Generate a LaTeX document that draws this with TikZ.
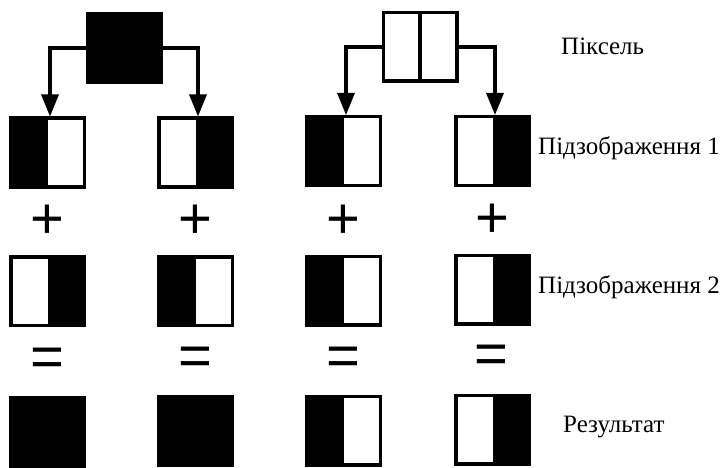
\documentclass[tikz,border=0pt]{standalone}
\usepackage{fontspec}
\setmainfont{Liberation Serif}
\newfontfamily\opfont{Liberation Sans}
\usetikzlibrary{arrows.meta,calc}
\begin{document}
\begin{tikzpicture}[x=1pt,y=-1pt,
  cell/.style={draw=black,line width=3.5pt,minimum width=73.5pt,minimum height=68.5pt,inner sep=0pt},
  fullcell/.style={cell,fill=black},
  conn/.style={line width=3.2pt,-{Triangle[length=22pt,width=17pt]}},
  op/.style={font=\opfont\fontsize{58}{62}\selectfont,inner sep=0pt},
  lab/.style={font=\fontsize{25}{29}\selectfont,inner sep=0pt,anchor=base west}]
\useasboundingbox (0,0) rectangle (723,468);
% pixels
\node[fullcell] (p1) at (124,48) {};
\node[cell] (p2) at (420,47) {};
\draw[line width=3.5pt] (p2.north) -- (p2.south);
% row 1
\node[cell] (a1) at (47.5,152.5) {};
\node[cell] (a2) at (195.5,152.5) {};
\node[cell] (a3) at (343.5,151) {};
\node[cell] (a4) at (492.5,151) {};
\fill (a1.north west) rectangle (a1.south);
\fill (a2.north) rectangle (a2.south east);
\fill (a3.north west) rectangle (a3.south);
\fill (a4.north) rectangle (a4.south east);
% arrows
\draw[conn] (p1.west) -| ([xshift=2.5pt]a1.north);
\draw[conn] (p1.east) -| ([xshift=2.5pt]a2.north);
\draw[conn] (p2.west) -| ([xshift=2.5pt]a3.north);
\draw[conn] (p2.east) -| ([xshift=2.5pt]a4.north);
% plus
\node[op] (s1) at (47,222) {+};
\node[op] (s2) at (195,222) {+};
\node[op] (s3) at (343,222) {+};
\node[op] (s4) at (492,221) {+};
% row 2
\node[cell] (b1) at (47.5,291) {};
\node[cell] (b2) at (195.5,291) {};
\node[cell] (b3) at (343.5,290.5) {};
\node[cell] (b4) at (492.5,289.5) {};
\fill (b1.north) rectangle (b1.south east);
\fill (b2.north west) rectangle (b2.south);
\fill (b3.north west) rectangle (b3.south);
\fill (b4.north) rectangle (b4.south east);
% equals
\node[op] (e1) at (47,362) {=};
\node[op] (e2) at (195,361) {=};
\node[op] (e3) at (343,361) {=};
\node[op] (e4) at (491,359) {=};
% row 3
\node[fullcell] (c1) at (47.5,431.5) {};
\node[fullcell] (c2) at (195.5,431) {};
\node[cell] (c3) at (343.5,430.5) {};
\node[cell] (c4) at (492.5,429.5) {};
\fill (c3.north west) rectangle (c3.south);
\fill (c4.north) rectangle (c4.south east);
% labels
\node[lab] (l1) at (561,55) {Піксель};
\node[lab] (l2) at (538,155) {Підзображення 1};
\node[lab] (l3) at (538,293) {Підзображення 2};
\node[lab] (l4) at (563,432) {Результат};
\end{tikzpicture}
\end{document}
